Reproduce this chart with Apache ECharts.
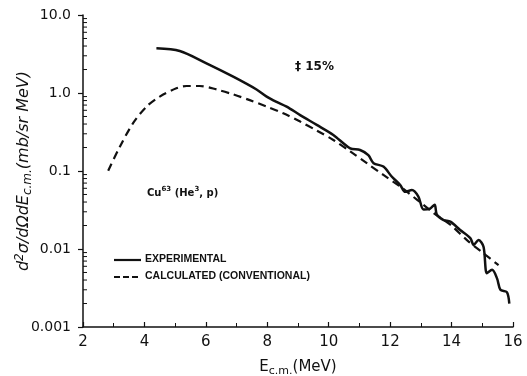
<!DOCTYPE html>
<html><head><meta charset="utf-8">
<script src="https://cdn.jsdelivr.net/npm/echarts@6/dist/echarts.min.js"></script>
<style>html,body{margin:0;padding:0;background:#fff}#c{width:527px;height:376px}</style>
</head><body><div id="c"></div>
<script>
// Experimental (solid) curve: [E_cm MeV, d2sigma/dOmega dE (mb/sr MeV)]
const expE = [4.39,5.15,6.02,6.89,7.65,7.98,8.30,8.63,9.07,9.61,10.15,10.70,11.02,11.29,11.46,11.78,12.05,12.33,12.49,12.71,12.92,13.09,13.30,13.45,13.52,13.74,13.96,14.28,14.61,14.72,14.88,15.04,15.15,15.32,15.48,15.59,15.80,15.88];
const expV = [3.74,3.45,2.40,1.62,1.11,0.90,0.77,0.67,0.52,0.39,0.29,0.195,0.186,0.16,0.126,0.114,0.085,0.066,0.054,0.057,0.047,0.032,0.033,0.037,0.0275,0.0235,0.0224,0.0175,0.0138,0.0113,0.013,0.0107,0.0049,0.0054,0.0042,0.0030,0.0028,0.0020];
// Calculated (conventional, dashed) curve
const calE = [2.82,3.20,3.63,4.07,4.50,5.04,5.37,5.80,6.35,6.89,7.43,7.98,8.52,9.07,9.61,10.15,10.70,11.24,11.78,12.33,12.87,13.41,13.96,14.50,15.04,15.53];
const calV = [0.101,0.205,0.41,0.67,0.90,1.15,1.23,1.23,1.11,0.96,0.81,0.67,0.55,0.43,0.33,0.25,0.178,0.126,0.089,0.063,0.043,0.029,0.0205,0.013,0.0088,0.0062];
const seriesNames = ['EXPERIMENTAL','CALCULATED (CONVENTIONAL)'];
const xTicks = [2,4,6,8,10,12,14,16];
const yTickValues = [0.001,0.01,0.1,1,10];
const yTickLabels = ['0.001','0.01','0.1','1.0','10.0'];
const yMinorTicks = [0.002,0.003,0.004,0.005,0.006,0.007,0.008,0.009,0.02,0.03,0.04,0.05,0.06,0.07,0.08,0.09,0.2,0.3,0.4,0.5,0.6,0.7,0.8,0.9,2,3,4,5,6,7,8,9];

const F = '"DejaVu Sans", sans-serif';
const L = '"Liberation Sans", sans-serif';
const chart = echarts.init(document.getElementById('c'));
const zip = (a,b)=>a.map((v,i)=>[v,b[i]]);
chart.setOption({
  animation:false,
  backgroundColor:'#fff',
  grid:{left:83,right:14,top:15,bottom:49,containLabel:false,outerBoundsMode:'none'},
  xAxis:{
    type:'value', min:2, max:16, interval:2,
    axisLine:{lineStyle:{color:'#111',width:1.5}},
    axisTick:{inside:true,length:5,lineStyle:{color:'#111',width:1.2}},
    minorTick:{show:true,splitNumber:2,length:4,lineStyle:{color:'#111'}},
    splitLine:{show:false},
    axisLabel:{fontFamily:F,fontSize:15,color:'#111',margin:8,
      formatter:v=>xTicks.includes(v)?String(v):''},
    name:'E{sub|c.m.}(MeV)', nameLocation:'middle', nameGap:30,
    nameTextStyle:{fontFamily:F,fontSize:15,color:'#111',
      rich:{sub:{fontFamily:F,fontSize:11,color:'#111',padding:[9,0,0,0]}}}
  },
  yAxis:{
    type:'log', logBase:10, min:0.001, max:10,
    axisLine:{lineStyle:{color:'#111',width:1.5}},
    axisTick:{inside:false,length:5,lineStyle:{color:'#111',width:1.2}},
    splitLine:{show:false},
    axisLabel:{fontFamily:F,fontSize:14,color:'#111',margin:12,
      formatter:v=>{const i=yTickValues.findIndex(t=>Math.abs(Math.log10(t)-Math.log10(v))<1e-6);return i>=0?yTickLabels[i]:'';}},
    name:'d{sup|2}σ/dΩdE{sub|c.m.}(mb/sr MeV)', nameLocation:'middle', nameGap:49,
    nameMoveOverlap:false,
    nameTextStyle:{fontFamily:F,fontSize:16,fontStyle:'italic',color:'#111',
      rich:{
        sup:{fontFamily:F,fontSize:12,fontStyle:'italic',color:'#111',padding:[0,0,8,0]},
        sub:{fontFamily:F,fontSize:12,fontStyle:'italic',color:'#111',padding:[9,0,0,0]}
      }}
  },
  series:[
    {name:seriesNames[0],type:'line',symbol:'none',smooth:0.3,data:zip(expE,expV),
     lineStyle:{color:'#111',width:2.5},itemStyle:{color:'#111'}},
    {name:seriesNames[1],type:'line',symbol:'none',smooth:0.3,data:zip(calE,calV),
     lineStyle:{color:'#111',width:2.2,type:[8,5]},itemStyle:{color:'#111'}},
    {type:'custom',silent:true,data:yMinorTicks.map(v=>[2,v]),
     renderItem:(p,api)=>{const pt=api.coord([api.value(0),api.value(1)]);
       return {type:'line',shape:{x1:pt[0],y1:pt[1],x2:pt[0]+4,y2:pt[1]},style:{stroke:'#111',lineWidth:1}};}}
  ],
  graphic:[
    {type:'line',shape:{x1:114,y1:260,x2:141,y2:260},style:{stroke:'#111',lineWidth:2.2}},
    {type:'line',shape:{x1:114,y1:277,x2:141,y2:277},style:{stroke:'#111',lineWidth:2,lineDash:[6,3]}},
    {type:'text',left:145,top:254,style:{text:seriesNames[0],font:'bold 10.5px '+L,fill:'#111'}},
    {type:'text',left:145,top:271,style:{text:seriesNames[1],font:'bold 10.5px '+L,fill:'#111'}},
    {type:'text',left:295,top:61,style:{text:'‡ 15%',font:'bold 12px '+F,fill:'#111'}},
    {type:'text',left:147,top:186,style:{text:'Cu{sup|63} (He{sup|3}, p)',font:'bold 10px '+F,fill:'#111',
      rich:{sup:{font:'bold 7px '+F,fill:'#111',padding:[0,0,7,0]}}}}
  ]
});
</script></body></html>
